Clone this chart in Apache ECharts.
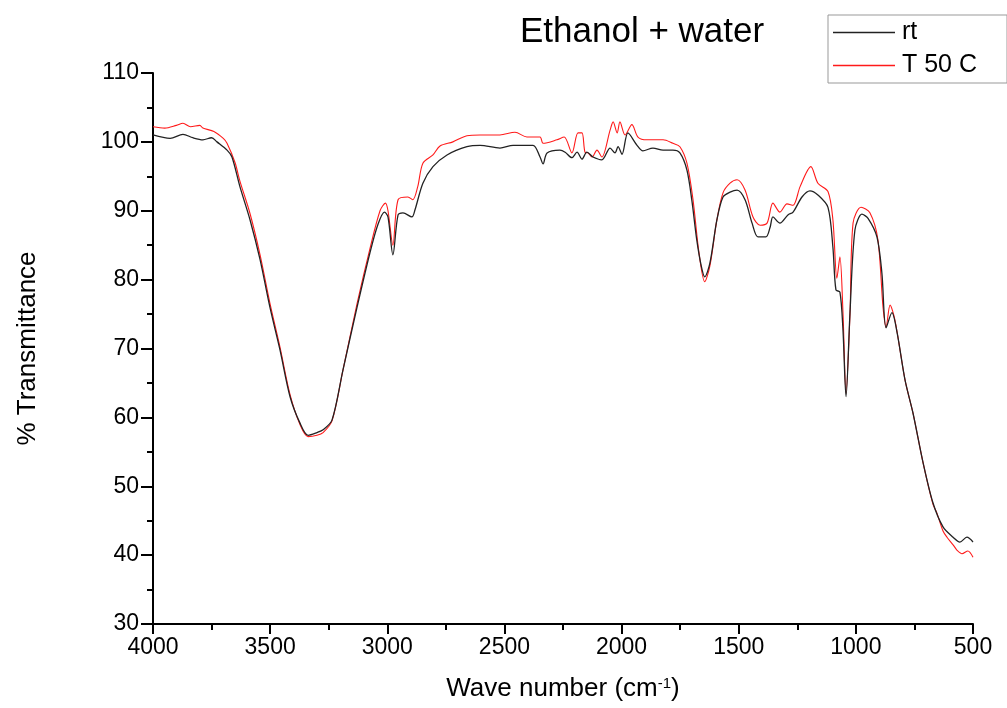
<!DOCTYPE html>
<html>
<head>
<meta charset="utf-8">
<script src="https://cdn.jsdelivr.net/npm/echarts@6/dist/echarts.min.js"></script>
<style>
  html, body { margin: 0; padding: 0; background: #fff; }
  #chart { width: 1007px; height: 708px; }
</style>
</head>
<body>
<div id="chart"></div>
<script>
// rt spectrum (wavenumber, %T)
const rtWave = [4000, 3927, 3872, 3830, 3787, 3750, 3727, 3684, 3663, 3629, 3586, 3543, 3501, 3458, 3415, 3373, 3338, 3300, 3274, 3236, 3189, 3129, 3074, 3040, 3012, 2997, 2976, 2954, 2933, 2895, 2882, 2848, 2805, 2745, 2660, 2604, 2519, 2463, 2378, 2348, 2335, 2318, 2263, 2241, 2212, 2190, 2169, 2148, 2122, 2084, 2049, 2028, 2015, 1998, 1973, 1934, 1909, 1866, 1823, 1781, 1751, 1721, 1700, 1680, 1660, 1645, 1623, 1593, 1567, 1537, 1507, 1473, 1443, 1418, 1384, 1366, 1354, 1324, 1290, 1268, 1230, 1196, 1162, 1119, 1098, 1085, 1068, 1055, 1042, 1025, 1004, 974, 948, 910, 889, 871, 846, 824, 790, 756, 713, 671, 628, 585, 556, 526, 500];
const rtValues = [101.0, 100.5, 101.1, 100.6, 100.3, 100.6, 100.0, 98.8, 97.8, 93.5, 88.7, 82.9, 76.0, 69.8, 63.0, 59.2, 57.4, 57.8, 58.2, 59.6, 66.9, 76.0, 83.9, 88.0, 89.8, 89.1, 83.6, 89.4, 89.7, 89.1, 90.1, 94.0, 96.4, 98.1, 99.3, 99.5, 99.1, 99.5, 99.5, 97.8, 96.8, 98.4, 98.8, 98.5, 97.7, 98.5, 97.5, 98.5, 97.8, 97.4, 99.1, 98.4, 99.3, 98.2, 101.3, 99.5, 98.7, 99.1, 98.8, 98.8, 98.4, 95.9, 91.5, 86.0, 82.0, 80.4, 82.4, 88.7, 92.0, 92.7, 93.0, 91.6, 88.2, 86.2, 86.2, 87.6, 89.1, 88.2, 89.4, 89.8, 92.0, 92.9, 92.3, 90.5, 84.7, 78.5, 78.2, 72.7, 63.0, 75.2, 87.2, 89.5, 88.9, 86.2, 81.0, 73.0, 75.2, 72.3, 65.4, 60.6, 53.4, 47.6, 44.1, 42.6, 41.9, 42.6, 41.9];

// T 50 C spectrum
const t50Wave = [4000, 3950, 3900, 3872, 3840, 3800, 3787, 3740, 3700, 3684, 3650, 3629, 3586, 3543, 3501, 3458, 3415, 3373, 3338, 3300, 3274, 3236, 3189, 3129, 3074, 3031, 3008, 2997, 2976, 2954, 2912, 2891, 2870, 2848, 2805, 2775, 2720, 2660, 2604, 2519, 2455, 2404, 2348, 2335, 2276, 2245, 2212, 2186, 2169, 2156, 2143, 2126, 2105, 2084, 2049, 2036, 2019, 2007, 1985, 1956, 1930, 1892, 1823, 1781, 1751, 1721, 1695, 1670, 1645, 1623, 1593, 1567, 1537, 1507, 1473, 1439, 1409, 1379, 1354, 1324, 1294, 1268, 1238, 1192, 1162, 1119, 1098, 1081, 1068, 1055, 1042, 1025, 1012, 978, 940, 906, 884, 871, 854, 833, 790, 756, 713, 671, 654, 628, 611, 585, 568, 547, 522, 500];
const t50Values = [102.2, 102.0, 102.4, 102.7, 102.2, 102.4, 102.0, 101.5, 100.5, 99.8, 97.0, 94.3, 89.6, 83.6, 76.6, 70.2, 63.3, 59.0, 57.2, 57.4, 57.8, 59.5, 66.9, 76.5, 84.5, 90.0, 91.1, 90.0, 85.0, 91.6, 92.0, 91.6, 93.5, 96.9, 98.1, 99.4, 100.0, 100.9, 101.0, 101.0, 101.4, 100.7, 100.7, 99.8, 100.3, 100.7, 98.4, 101.3, 101.3, 98.5, 98.4, 97.8, 98.8, 97.8, 101.7, 102.9, 101.3, 102.9, 101.0, 102.5, 100.7, 100.3, 100.3, 99.8, 99.3, 96.9, 91.6, 84.0, 79.7, 82.0, 88.7, 92.6, 94.0, 94.5, 93.0, 89.1, 87.9, 88.2, 91.1, 89.8, 91.0, 90.8, 93.5, 96.4, 94.0, 92.8, 88.7, 80.2, 83.3, 75.2, 63.5, 75.0, 88.2, 90.5, 89.7, 85.8, 76.0, 73.1, 76.3, 74.1, 65.4, 60.6, 53.4, 47.4, 46.1, 43.5, 42.6, 41.5, 40.7, 40.2, 40.6, 39.7];

const pairs = (xs, ys) => xs.map((x, i) => [x, ys[i]]);

const FONT = "Liberation Sans, Arial, sans-serif";

const chart = echarts.init(document.getElementById("chart"));
chart.setOption({
  animation: false,
  title: {
    text: "Ethanol + water",
    left: 515,
    top: 10,
    textStyle: { fontFamily: FONT, fontSize: 35, fontWeight: "normal", color: "#000" },
  },
  legend: {
    orient: "vertical",
    left: 828,
    top: 15,
    padding: [5, 30, 5, 5],
    itemGap: 8,
    itemWidth: 62,
    itemHeight: 1.5,
    icon: "rect",
    borderColor: "#999",
    borderWidth: 1,
    textStyle: { fontFamily: FONT, fontSize: 25, color: "#000", padding: [0, 0, 0, 2] },
    data: ["rt", "T 50 C"],
  },
  grid: { left: 153, right: 34, top: 73, bottom: 84 },
  xAxis: {
    type: "value",
    inverse: true,
    min: 500,
    max: 4000,
    interval: 500,
    name: "{a|Wave number (cm}{s|-1}{a|)}",
    nameLocation: "middle",
    nameGap: 52,
    nameTextStyle: {
      rich: {
        a: { fontFamily: FONT, fontSize: 26, color: "#000" },
        s: { fontFamily: FONT, fontSize: 15, color: "#000", verticalAlign: "top" },
      },
    },
    axisLine: { lineStyle: { color: "#000", width: 2 } },
    axisTick: { length: 10, lineStyle: { color: "#000", width: 2 } },
    minorTick: { show: true, splitNumber: 2, length: 6, lineStyle: { color: "#000", width: 2 } },
    axisLabel: { fontFamily: FONT, fontSize: 23, color: "#000", margin: 12, formatter: (v) => String(v) },
    splitLine: { show: false },
  },
  yAxis: {
    type: "value",
    min: 30,
    max: 110,
    interval: 10,
    name: "% Transmittance",
    nameLocation: "middle",
    nameGap: 112,
    nameTextStyle: { fontFamily: FONT, fontSize: 26, color: "#000" },
    axisLine: { show: true, lineStyle: { color: "#000", width: 2 } },
    axisTick: { show: true, length: 12, lineStyle: { color: "#000", width: 2 } },
    minorTick: { show: true, splitNumber: 2, length: 6, lineStyle: { color: "#000", width: 2 } },
    axisLabel: { fontFamily: FONT, fontSize: 23, color: "#000", margin: 14 },
    splitLine: { show: false },
  },
  series: [
    {
      name: "rt",
      type: "line",
      symbol: "none",
      smooth: 0.3,
      data: pairs(rtWave, rtValues),
      lineStyle: { color: "#222", width: 1.3 },
      itemStyle: { color: "#222" },
      z: 3,
    },
    {
      name: "T 50 C",
      type: "line",
      symbol: "none",
      smooth: 0.3,
      data: pairs(t50Wave, t50Values),
      lineStyle: { color: "#ff1a1a", width: 1.1 },
      itemStyle: { color: "#ff1a1a" },
      z: 2,
    },
  ],
});
</script>
</body>
</html>
